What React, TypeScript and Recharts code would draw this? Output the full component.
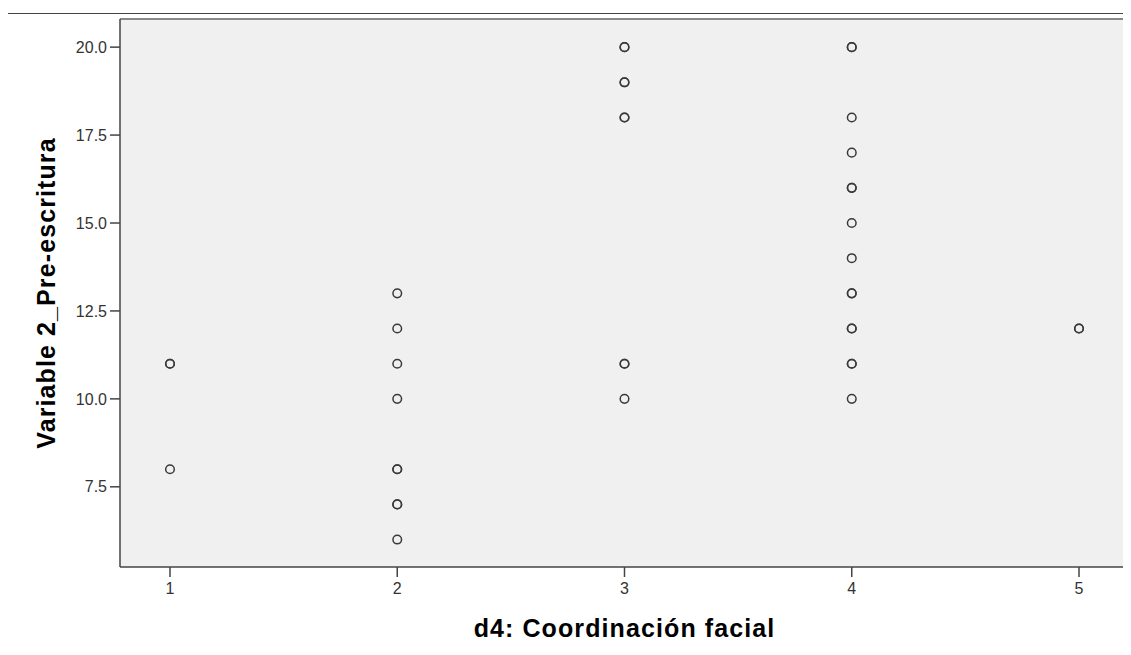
import {
  ScatterChart,
  Scatter,
  XAxis,
  YAxis,
  CartesianGrid,
  ReferenceLine,
} from "recharts";

// d4: Coordinación facial (x) vs Variable 2_Pre-escritura (y)
// repeated pairs are overlapping cases (drawn darker, like SPSS)
const coordFacial = [
  1, 1, 1,
  2, 2, 2, 2, 2, 2, 2, 2, 2,
  3, 3, 3, 3, 3, 3, 3, 3, 3,
  4, 4, 4, 4, 4, 4, 4, 4, 4, 4, 4, 4, 4, 4, 4,
  5, 5,
];
const preEscritura = [
  11, 11, 8,
  13, 12, 11, 10, 8, 8, 7, 7, 6,
  20, 20, 19, 19, 18, 18, 11, 11, 10,
  20, 20, 18, 17, 16, 16, 15, 14, 13, 13, 12, 12, 11, 11, 10,
  12, 12,
];

const xTicks = [1, 2, 3, 4, 5];
const yTicks = [7.5, 10, 12.5, 15, 17.5, 20];
const xDomain = [0.78, 5.22];
const yDomain = [5.22, 20.8];

const data = coordFacial.map((x, i) => ({ x, y: preEscritura[i] }));

const FONT = "'Liberation Sans', Arial, sans-serif";
const titleStyle = {
  fill: "#000",
  fontSize: 25,
  fontWeight: "bold",
  fontFamily: FONT,
  letterSpacing: 1.1,
};

const Ring = (props: any) => {
  const { cx, cy } = props;
  if (cx == null || cy == null) return null;
  return <circle cx={cx} cy={cy} r={4.3} fill="none" stroke="#3a3a3a" strokeWidth={1.5} />;
};

export default function App() {
  return (
    <div style={{ margin: -8, position: "relative", width: 1131, height: 655, background: "#fff" }}>
      <div
        style={{
          position: "absolute",
          left: 7,
          top: 13,
          width: 1124,
          height: 642,
          borderTop: "1px solid #444",
          borderLeft: "1px solid #444",
          boxSizing: "border-box",
        }}
      />
      <div style={{ position: "absolute", left: 0, top: 0 }}>
        <ScatterChart
          width={1131}
          height={655}
          margin={{ top: 19, right: 2, bottom: 0, left: 0 }}
        >
          <CartesianGrid fill="#F0F0F0" horizontal={false} vertical={false} />
          <XAxis
            type="number"
            dataKey="x"
            domain={xDomain}
            ticks={xTicks}
            allowDataOverflow
            height={88}
            tickSize={10}
            tickMargin={6}
            axisLine={{ stroke: "#444", strokeWidth: 1.5 }}
            tickLine={{ stroke: "#444", strokeWidth: 1.5 }}
            tick={{ fill: "#333", fontSize: 16, fontFamily: FONT }}
            label={{
              value: "d4: Coordinación facial",
              position: "insideBottom",
              offset: 18,
              style: titleStyle,
            }}
          />
          <YAxis
            type="number"
            dataKey="y"
            domain={yDomain}
            ticks={yTicks}
            allowDataOverflow
            width={120}
            tickSize={10}
            tickMargin={3}
            tickFormatter={(v: number) => v.toFixed(1)}
            axisLine={{ stroke: "#444", strokeWidth: 1.5 }}
            tickLine={{ stroke: "#444", strokeWidth: 1.5 }}
            tick={{ fill: "#333", fontSize: 16, fontFamily: FONT }}
            label={{
              value: "Variable 2_Pre-escritura",
              angle: -90,
              position: "insideLeft",
              offset: 46,
              style: { ...titleStyle, textAnchor: "middle" },
            }}
          />
          <ReferenceLine y={yDomain[1]} stroke="#888" strokeWidth={2} />
          <ReferenceLine x={xDomain[1]} stroke="#888" strokeWidth={3} />
          <Scatter data={data} shape={Ring} isAnimationActive={false} />
        </ScatterChart>
      </div>
    </div>
  );
}
